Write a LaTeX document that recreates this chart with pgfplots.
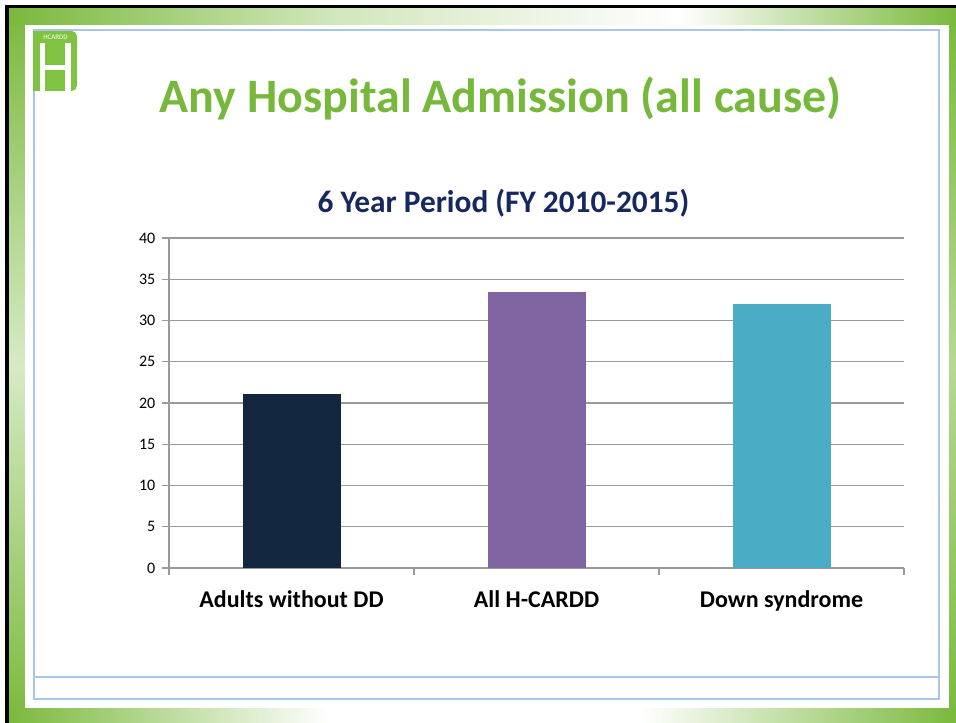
\documentclass[border=0pt]{standalone}
\usepackage{pgfplots}
\pgfplotsset{compat=1.18}
\usepackage{fontspec}
\setmainfont{Carlito}
\definecolor{G}{HTML}{7AB93C}
\definecolor{LG}{HTML}{80C342}
\definecolor{TG}{HTML}{76B83A}
\definecolor{Navy}{HTML}{13263F}
\definecolor{Purp}{HTML}{8064A2}
\definecolor{Teal}{HTML}{4BACC6}
\definecolor{SubT}{HTML}{17285E}
\definecolor{Frame}{HTML}{A9C5EB}
\definecolor{Grid}{HTML}{9A9A9A}
\begin{document}
\begin{tikzpicture}
\begin{scope}[x=0.75pt,y=-0.75pt]
\fill[white] (0,0) rectangle (956,723);
% green border
\shade[top color=G, bottom color=G!30] (9,8) rectangle (25,365);
\shade[top color=G!30, bottom color=G] (9,365) rectangle (25,723);
\shade[top color=G, bottom color=G!55] (949,8) rectangle (956,365);
\shade[top color=G!55, bottom color=G] (949,365) rectangle (956,723);
\shade[left color=G, right color=G!35] (9,8) rectangle (330,25);
\shade[left color=G!35, right color=white] (330,8) rectangle (680,25);
\shade[left color=white, right color=G] (680,8) rectangle (956,25);
\shade[left color=G, right color=white] (9,708) rectangle (330,723);
\fill[white] (330,708) rectangle (640,723);
\shade[left color=white, right color=G] (640,708) rectangle (956,723);
% black edge
\fill[black] (5,5) rectangle (956,8);
\fill[black] (5,5) rectangle (9,723);
% inner panel
\fill[white] (25,25) rectangle (949,708);
\draw[Frame, line width=1.1pt] (34,30) rectangle (939,699);
\draw[Frame, line width=1.1pt] (34,677) -- (939,677);
% logo
\fill[LG, rounded corners=4pt] (33,31) rectangle (77,91);
\fill[LG] (33,31) rectangle (45,91);
\fill[white] (40,43) rectangle (45,91);
\fill[white] (65,43) rectangle (71,91);
\fill[white] (45,65) rectangle (65,70);
\node[text=white, font=\fontsize{5.2}{5.2}\selectfont, inner sep=0pt] at (55.5,37) {HCARDD};
% titles
\node[text=TG, font=\bfseries\fontsize{36}{36}\selectfont, anchor=base, inner sep=0pt] at (500.5,113) {Any Hospital Admission (all cause)};
\node[text=SubT, font=\bfseries\fontsize{23.5}{23.5}\selectfont, anchor=base, inner sep=0pt] at (503.5,213) {6 Year Period (FY 2010-2015)};
\end{scope}
\begin{axis}[
  at={(126.75pt,-426pt)}, anchor=south west,
  scale only axis, width=551.25pt, height=247.5pt,
  xmin=-0.5, xmax=2.5, ymin=0, ymax=40,
  axis lines=left,
  axis line style={-, draw=Grid, line width=0.9pt},
  ytick={0,5,...,40},
  ymajorgrids, grid style={draw=Grid, line width=0.9pt},
  xtick={-0.5,0.5,1.5,2.5}, xticklabels={},
  extra x ticks={0,1,2},
  extra x tick labels={Adults without DD, All H-CARDD, Down syndrome},
  extra x tick style={tick style={draw=none}, grid=none,
     xticklabel style={font=\bfseries\fontsize{18}{18}\selectfont, anchor=base, yshift=-24pt}},
  tick align=outside, major tick length=5.25pt,
  tick style={draw=Grid, line width=0.9pt},
  yticklabel style={font=\fontsize{12}{12}\selectfont, xshift=-1.5pt},
  /pgf/number format/assume math mode=true,
]
\addplot[ybar, bar width=73.5pt, bar shift=0pt, fill=Navy, draw=none] coordinates {(0,21.1)};
\addplot[ybar, bar width=73.5pt, bar shift=0pt, fill=Purp, draw=none] coordinates {(1,33.45)};
\addplot[ybar, bar width=73.5pt, bar shift=0pt, fill=Teal, draw=none] coordinates {(2,32.0)};
\end{axis}
\end{tikzpicture}
\end{document}
